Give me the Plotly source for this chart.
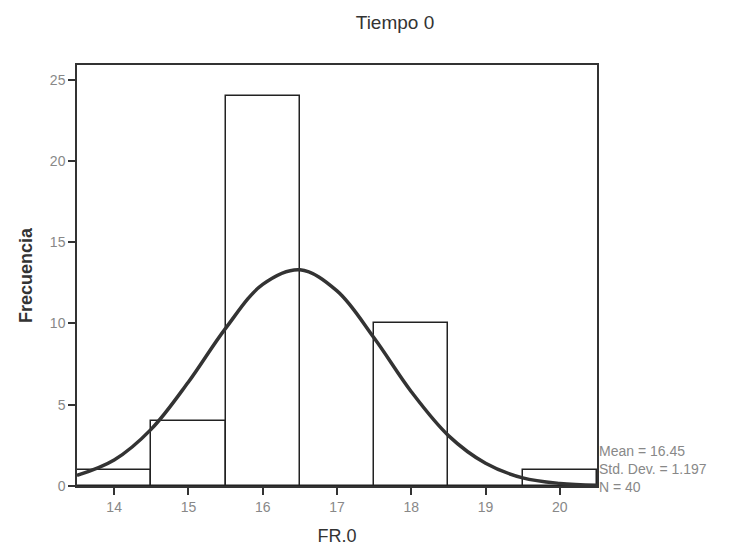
import plotly.graph_objects as go

# Histogram bins (centers) and frequencies
bin_centers = [14, 15, 16, 17, 18, 19, 20]
frequencies = [1, 4, 24, 0, 10, 0, 1]

# Fitted normal curve
curve_x = [13.5, 14.0, 14.5, 15.0, 15.5, 16.0, 16.5, 17.0, 17.5, 18.0, 18.5, 19.0, 19.5, 20.0, 20.5]
curve_y = [0.65, 1.6, 3.5, 6.4, 9.7, 12.4, 13.3, 12.0, 9.1, 5.8, 3.1, 1.4, 0.5, 0.16, 0.05]

x_ticks = [14, 15, 16, 17, 18, 19, 20]
y_ticks = [0, 5, 10, 15, 20, 25]

stats_lines = ["Mean = 16.45", "Std. Dev. = 1.197", "N = 40"]

W, H = 725, 542  # page has an 8px body margin

fig = go.Figure()
fig.add_trace(go.Bar(
    x=bin_centers, y=frequencies, width=1,
    marker=dict(color="white", line=dict(color="#222222", width=1.5)),
    showlegend=False, hoverinfo="x+y",
))
fig.add_trace(go.Scatter(
    x=curve_x, y=curve_y, mode="lines", line=dict(color="#333333", width=3.5, shape="spline"),
    showlegend=False,
))

fig.update_layout(
    width=W, height=H,
    margin=dict(l=69, r=W - 589, t=57, b=H - 478, autoexpand=False),
    paper_bgcolor="white", plot_bgcolor="white",
    font=dict(family="Liberation Sans, Arial, sans-serif", color="#333333"),
    title=dict(text="Tiempo 0", x=387/W, xanchor="center", y=1 - 14/H, yanchor="middle",
               font=dict(size=19, color="#333333"), automargin=False),
    bargap=0,
)
fig.update_xaxes(
    range=[13.5, 20.5], tickvals=x_ticks, ticktext=[str(v) for v in x_ticks],
    ticks="outside", ticklen=7, tickwidth=1.5, tickcolor="#333333",
    showline=True, linecolor="#333333", linewidth=1.5, mirror=True,
    showgrid=False, zeroline=False, automargin=False,
    tickfont=dict(size=14, color="#888888"),
    title=dict(text="FR.0", font=dict(size=18, color="#333333"), standoff=16),
)
fig.update_yaxes(
    range=[0, 25.9], tickvals=y_ticks, ticktext=[str(v) for v in y_ticks],
    ticks="outside", ticklen=7, tickwidth=1.5, tickcolor="#333333",
    showline=True, linecolor="#333333", linewidth=1.5, mirror=True,
    showgrid=False, zeroline=False, automargin=False,
    tickfont=dict(size=14, color="#888888"),
    title=dict(text="<b>Frecuencia</b>", font=dict(size=18, color="#333333"), standoff=13),
)

fig.add_annotation(
    xref="paper", yref="paper", x=1.0, y=0.0, xanchor="left", yanchor="middle",
    yshift=17, align="left", showarrow=False,
    text="<br>".join(stats_lines), font=dict(size=14, color="#888888"),
)

fig.write_html("out.html")
